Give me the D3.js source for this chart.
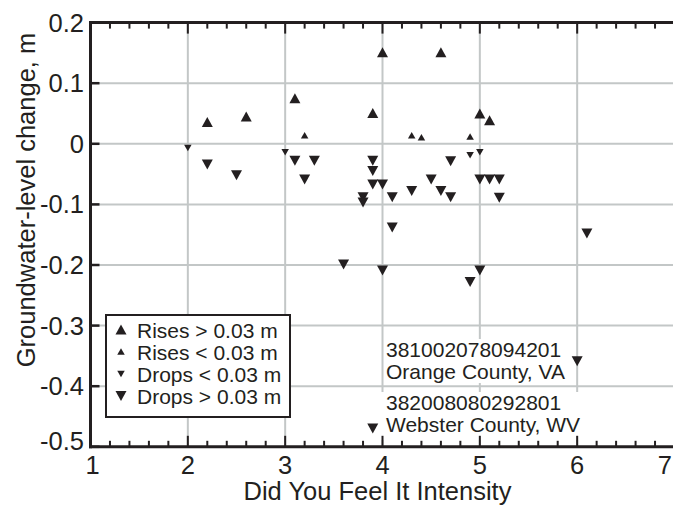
<!DOCTYPE html>
<html>
<head>
<meta charset="utf-8">
<script src="https://cdn.jsdelivr.net/npm/d3@7"></script>
<style>
  html, body { margin: 0; padding: 0; background: #fff; }
  svg { display: block; }
  text { font-family: "Liberation Sans", Arial, Helvetica, sans-serif; fill: #231f20; }
</style>
</head>
<body>
<script>
// Did You Feel It intensity vs groundwater-level change, grouped by size of change
const risesLargeX = [2.2, 2.6, 3.1, 3.9, 4.0, 4.6, 5.0, 5.1];
const risesLargeY = [0.036, 0.045, 0.075, 0.051, 0.151, 0.151, 0.050, 0.039];

const risesSmallX = [3.2, 4.3, 4.4, 4.9];
const risesSmallY = [0.014, 0.014, 0.011, 0.012];

const dropsSmallX = [2.0, 3.0, 4.9, 5.0];
const dropsSmallY = [-0.007, -0.014, -0.019, -0.014];

const dropsLargeX = [2.2, 2.5, 3.1, 3.3, 3.2, 3.9, 3.9, 3.9, 4.0, 3.8, 3.8, 4.1, 4.3, 4.5,
                     4.6, 4.7, 4.7, 5.0, 5.1, 5.2, 5.2, 6.1, 4.1, 3.6, 4.0, 5.0, 4.9, 6.0, 3.9];
const dropsLargeY = [-0.034, -0.052, -0.028, -0.028, -0.059, -0.028, -0.045, -0.067, -0.067,
                     -0.088, -0.097, -0.088, -0.078, -0.059, -0.078, -0.088, -0.029, -0.059,
                     -0.059, -0.059, -0.089, -0.148, -0.138, -0.199, -0.209, -0.209, -0.228,
                     -0.359, -0.470];

const xTicks = [1, 2, 3, 4, 5, 6, 7];
const yTicks = [0.2, 0.1, 0, -0.1, -0.2, -0.3, -0.4, -0.5];
const yTickLabels = ["0.2", "0.1", "0", "-0.1", "-0.2", "-0.3", "-0.4", "-0.5"];

const legendLabels = ["Rises > 0.03 m", "Rises < 0.03 m", "Drops < 0.03 m", "Drops > 0.03 m"];
const wellLabels = [
  ["381002078094201", "Orange County, VA"],
  ["382008080292801", "Webster County, WV"]
];

const W = 673, H = 506;
const ink = "#231f20", grid = "#c3c7c7";

const svg = d3.select("body").append("svg").attr("width", W).attr("height", H);

const x = d3.scaleLinear().domain([1, 7]).range([90.5, 674.5]);
const y = d3.scaleLinear().domain([-0.5, 0.2]).range([446.8, 22.6]);

// grid
const g = svg.append("g");
g.selectAll("line.gx").data(xTicks.slice(1)).join("line")
  .attr("x1", d => x(d)).attr("x2", d => x(d))
  .attr("y1", y(0.2)).attr("y2", y(-0.5))
  .attr("stroke", grid).attr("stroke-width", 2);
g.selectAll("line.gy").data(yTicks.slice(1, -1)).join("line")
  .attr("x1", x(1)).attr("x2", W)
  .attr("y1", d => y(d)).attr("y2", d => y(d))
  .attr("stroke", grid).attr("stroke-width", 2);

// triangle marker path centred on its bounding box
function tri(w, h, up) {
  const s = up ? 1 : -1;
  return `M0,${-s * h / 2}L${w / 2},${s * h / 2}L${-w / 2},${s * h / 2}Z`;
}
const BIG = [11, 10], SMALL = [7.5, 6.5];

// well labels, each on a white box
const wellBoxes = [
  { x0: 384, y0: 339, x1: 574, y1: 383 },
  { x0: 380, y0: 392, x1: 590, y1: 440 }
];
wellLabels.forEach((lines, i) => {
  const b = wellBoxes[i];
  svg.append("rect").attr("x", b.x0).attr("y", b.y0)
    .attr("width", b.x1 - b.x0).attr("height", b.y1 - b.y0).attr("fill", "#fff");
  svg.append("text").attr("x", 386).attr("y", b.y0 + 18).attr("font-size", 21).text(lines[0]);
  svg.append("text").attr("x", 386).attr("y", b.y0 + 40).attr("font-size", 21).text(lines[1]);
});

// data markers
function plot(xs, ys, size, up) {
  svg.append("g").selectAll("path").data(xs.map((v, i) => [v, ys[i]])).join("path")
    .attr("d", tri(size[0], size[1], up))
    .attr("transform", d => `translate(${x(d[0])},${y(d[1])})`)
    .attr("fill", ink);
}
plot(risesLargeX, risesLargeY, BIG, true);
plot(risesSmallX, risesSmallY, SMALL, true);
plot(dropsSmallX, dropsSmallY, SMALL, false);
plot(dropsLargeX, dropsLargeY, BIG, false);

// frame: left, top, bottom axes with inward ticks
const minor = d3.range(1, 7.001, 0.2).map(v => +v.toFixed(1));
const ax = svg.append("g").attr("stroke", ink);
ax.append("line").attr("x1", x(1)).attr("x2", W).attr("y1", y(0.2)).attr("y2", y(0.2)).attr("stroke-width", 3);
ax.append("line").attr("x1", x(1) - 1.5).attr("x2", W).attr("y1", y(-0.5)).attr("y2", y(-0.5)).attr("stroke-width", 3);
ax.append("line").attr("x1", x(1)).attr("x2", x(1)).attr("y1", y(0.2) - 1.5).attr("y2", y(-0.5) + 1.5).attr("stroke-width", 3);

const isMajor = v => Math.abs(v - Math.round(v)) < 1e-6;
ax.selectAll("line.tt").data(minor).join("line")
  .attr("x1", d => x(d)).attr("x2", d => x(d))
  .attr("y1", y(0.2)).attr("y2", d => y(0.2) + (isMajor(d) ? 11 : 6))
  .attr("stroke-width", 2);
ax.selectAll("line.bt").data(minor).join("line")
  .attr("x1", d => x(d)).attr("x2", d => x(d))
  .attr("y1", y(-0.5)).attr("y2", d => y(-0.5) - (isMajor(d) ? 11 : 6))
  .attr("stroke-width", 2);
ax.selectAll("line.lt").data(yTicks).join("line")
  .attr("x1", x(1)).attr("x2", x(1) + 9)
  .attr("y1", d => y(d)).attr("y2", d => y(d))
  .attr("stroke-width", 2.5);

// tick labels
svg.append("g").selectAll("text").data(yTicks).join("text")
  .attr("x", 84).attr("y", (d, i) => y(d) + 9 - (i === yTicks.length - 1 ? 6 : 0))
  .attr("text-anchor", "end").attr("font-size", 25.5)
  .text((d, i) => yTickLabels[i]);
const last = xTicks.length - 1;
svg.append("g").selectAll("text").data(xTicks).join("text")
  .attr("x", (d, i) => i === last ? W - 1 : x(d) + (i === 0 ? 2 : 0))
  .attr("y", 474)
  .attr("text-anchor", (d, i) => i === last ? "end" : "middle").attr("font-size", 25.5)
  .text(d => d);

// axis titles
svg.append("text").attr("x", (x(1) + x(7)) / 2 - 5).attr("y", 500)
  .attr("text-anchor", "middle").attr("font-size", 25.5)
  .text("Did You Feel It Intensity");
svg.append("text").attr("transform", "translate(35,200) rotate(-90)")
  .attr("text-anchor", "middle").attr("font-size", 25.5)
  .text("Groundwater-level change, m");

// legend
const lg = svg.append("g");
lg.append("rect").attr("x", 106).attr("y", 315).attr("width", 184).attr("height", 102)
  .attr("fill", "#fff").attr("stroke", ink).attr("stroke-width", 2);
const legendSym = [[BIG, true], [SMALL, true], [SMALL, false], [BIG, false]];
const legendRowY = [329.5, 351.5, 374, 396];
legendLabels.forEach((t, i) => {
  lg.append("path").attr("d", tri(legendSym[i][0][0], legendSym[i][0][1], legendSym[i][1]))
    .attr("transform", `translate(121,${legendRowY[i]})`).attr("fill", ink);
  lg.append("text").attr("x", 137).attr("y", legendRowY[i] + 8).attr("font-size", 21).text(t);
});
</script>
</body>
</html>
